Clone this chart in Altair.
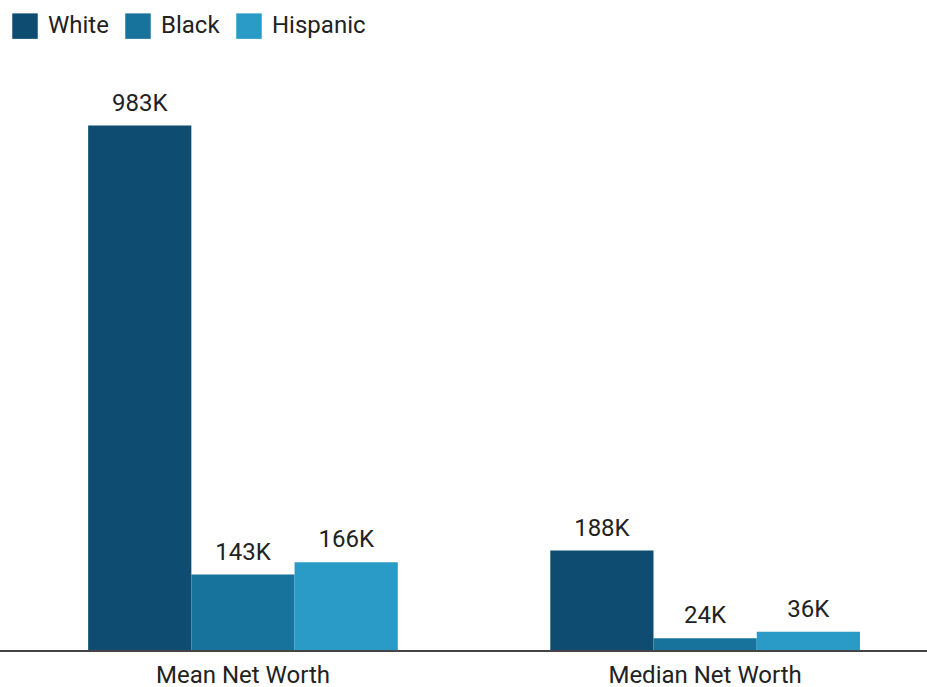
import altair as alt
import pandas as pd

categories = ["Mean Net Worth", "Median Net Worth"]
groups = ["White", "Black", "Hispanic"]
mean_values = [983, 143, 166]
median_values = [188, 24, 36]
colors = ["#0f4c72", "#18739c", "#2a9bc6"]

rows = []
for cat, vals in zip(categories, [mean_values, median_values]):
    for g, v in zip(groups, vals):
        rows.append({"metric": cat, "race": g, "value": v, "label": f"{v}K"})
df = pd.DataFrame(rows)

FONT = "Roboto"

x = alt.X("metric:N", sort=categories, title=None,
          scale=alt.Scale(paddingInner=0.33, paddingOuter=0.156, align=0.535),
          axis=alt.Axis(labelAngle=0, labelFontSize=24, labelColor="#222222",
                        labelFont=FONT, ticks=False, domain=False, labelPadding=12,
                        labelLimit=400))
xo = alt.XOffset("race:N", sort=groups, scale=alt.Scale(paddingInner=0, paddingOuter=0))
y = alt.Y("value:Q", scale=alt.Scale(domain=[0, 1100], nice=False), axis=None)

bars = alt.Chart(df).mark_bar().encode(
    x=x, xOffset=xo, y=y,
    color=alt.Color("race:N", sort=groups,
                    scale=alt.Scale(domain=groups, range=colors),
                    legend=alt.Legend(title=None, orient="none", direction="horizontal",
                                      legendX=1, legendY=-50, symbolType="square",
                                      symbolSize=650, symbolStrokeWidth=0,
                                      labelFontSize=24, labelFont=FONT,
                                      labelColor="#222222", symbolOffset=0,
                                      columnPadding=16, labelOffset=10)),
)

text = alt.Chart(df).mark_text(baseline="bottom", dy=-10, fontSize=24, font=FONT,
                               color="#222222").encode(
    x=x, xOffset=xo, y=y, text="label:N"
)

rule = alt.Chart(df).mark_rule(color="#444444", strokeWidth=1.5).encode(
    x=alt.value(-11), x2=alt.value(916), y=alt.value(588)
)

chart = alt.layer(bars, text, rule).properties(
    width=916, height=588,
    padding={"left": 11, "top": 63, "right": 0, "bottom": 36},
    autosize=alt.AutoSizeParams(type="none"),
).configure(background="white").configure_view(stroke=None, strokeWidth=0)

chart.save("out.html", embed_options={"renderer": "svg", "actions": False})
